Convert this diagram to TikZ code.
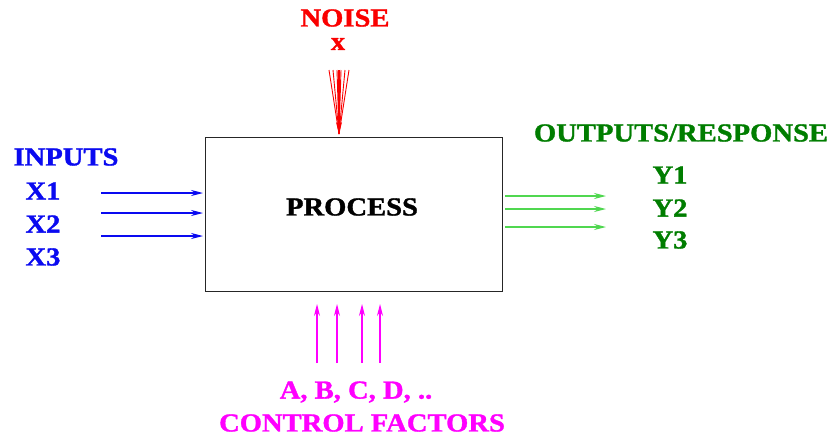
\documentclass[tikz,border=0pt]{standalone}
\usepackage{fontspec}
\setmainfont{Liberation Serif}[FakeBold=1.2]
\usetikzlibrary{arrows.meta}
\definecolor{inblue}{RGB}{10,10,240}
\definecolor{noisered}{RGB}{250,0,0}
\definecolor{outgreen}{RGB}{0,125,0}
\definecolor{arrgreen}{RGB}{80,215,80}
\definecolor{ctrlmag}{RGB}{255,0,255}
\tikzset{
  lbl/.style={inner sep=0pt, font=\fontsize{26}{30}\selectfont\bfseries, xscale=1.1},
  arr/.style={line width=1.2pt, -{Stealth[length=12pt,width=6pt]}},
}
\begin{document}
\begin{tikzpicture}[x=1pt,y=-1pt]
\useasboundingbox (0,0) rectangle (835,437);
% process box
\node[draw=black!85, line width=1.5pt, minimum width=297pt, minimum height=154pt, inner sep=0pt] (box) at (354,214.5) {};
\node[lbl, text=black] (proc) at (352,207) {PROCESS};
% noise
\node[lbl, text=noisered] (noise) at (345,18) {NOISE};
\node[lbl, text=noisered] (x) at (338,44) {x};
\coordinate (ntip) at (339,134);
\foreach \dx [count=\i] in {-10,-6,-2,2,6,10} {
  \coordinate (n\i) at (339+\dx,70);
  \draw[noisered, line width=0.9pt] (n\i) -- (ntip);
}
\coordinate (nmid) at (339,70);
\draw[noisered, arr, line width=1.6pt] (nmid) -- (ntip);
% inputs
\node[lbl, text=inblue] (inputs) at (66,157) {INPUTS};
\node[lbl, text=inblue] (x1) at (43,191) {X1};
\node[lbl, text=inblue] (x2) at (43,224) {X2};
\node[lbl, text=inblue] (x3) at (43,257) {X3};
\foreach \y [count=\i] in {193,213,236} {
  \coordinate (is\i) at (101,\y);
  \coordinate (ie\i) at (203,\y);
  \draw[inblue, arr] (is\i) -- (ie\i);
}
% outputs
\node[lbl, text=outgreen] (outputs) at (681,133) {OUTPUTS/RESPONSE};
\node[lbl, text=outgreen] (y1) at (670,175) {Y1};
\node[lbl, text=outgreen] (y2) at (670,208) {Y2};
\node[lbl, text=outgreen] (y3) at (670,240) {Y3};
\foreach \y [count=\i] in {196,209,227} {
  \coordinate (os\i) at (505,\y);
  \coordinate (oe\i) at (606,\y);
  \draw[arrgreen, arr] (os\i) -- (oe\i);
}
% control factors
\foreach \x [count=\i] in {317,337,362,380} {
  \coordinate (cs\i) at (\x,363);
  \coordinate (ce\i) at (\x,304);
  \draw[ctrlmag, arr] (cs\i) -- (ce\i);
}
\node[lbl, text=ctrlmag] (abcd) at (356,392) {A, B, C, D, ..};
\node[lbl, text=ctrlmag] (ctrl) at (362,423) {CONTROL FACTORS};
\end{tikzpicture}
\end{document}
